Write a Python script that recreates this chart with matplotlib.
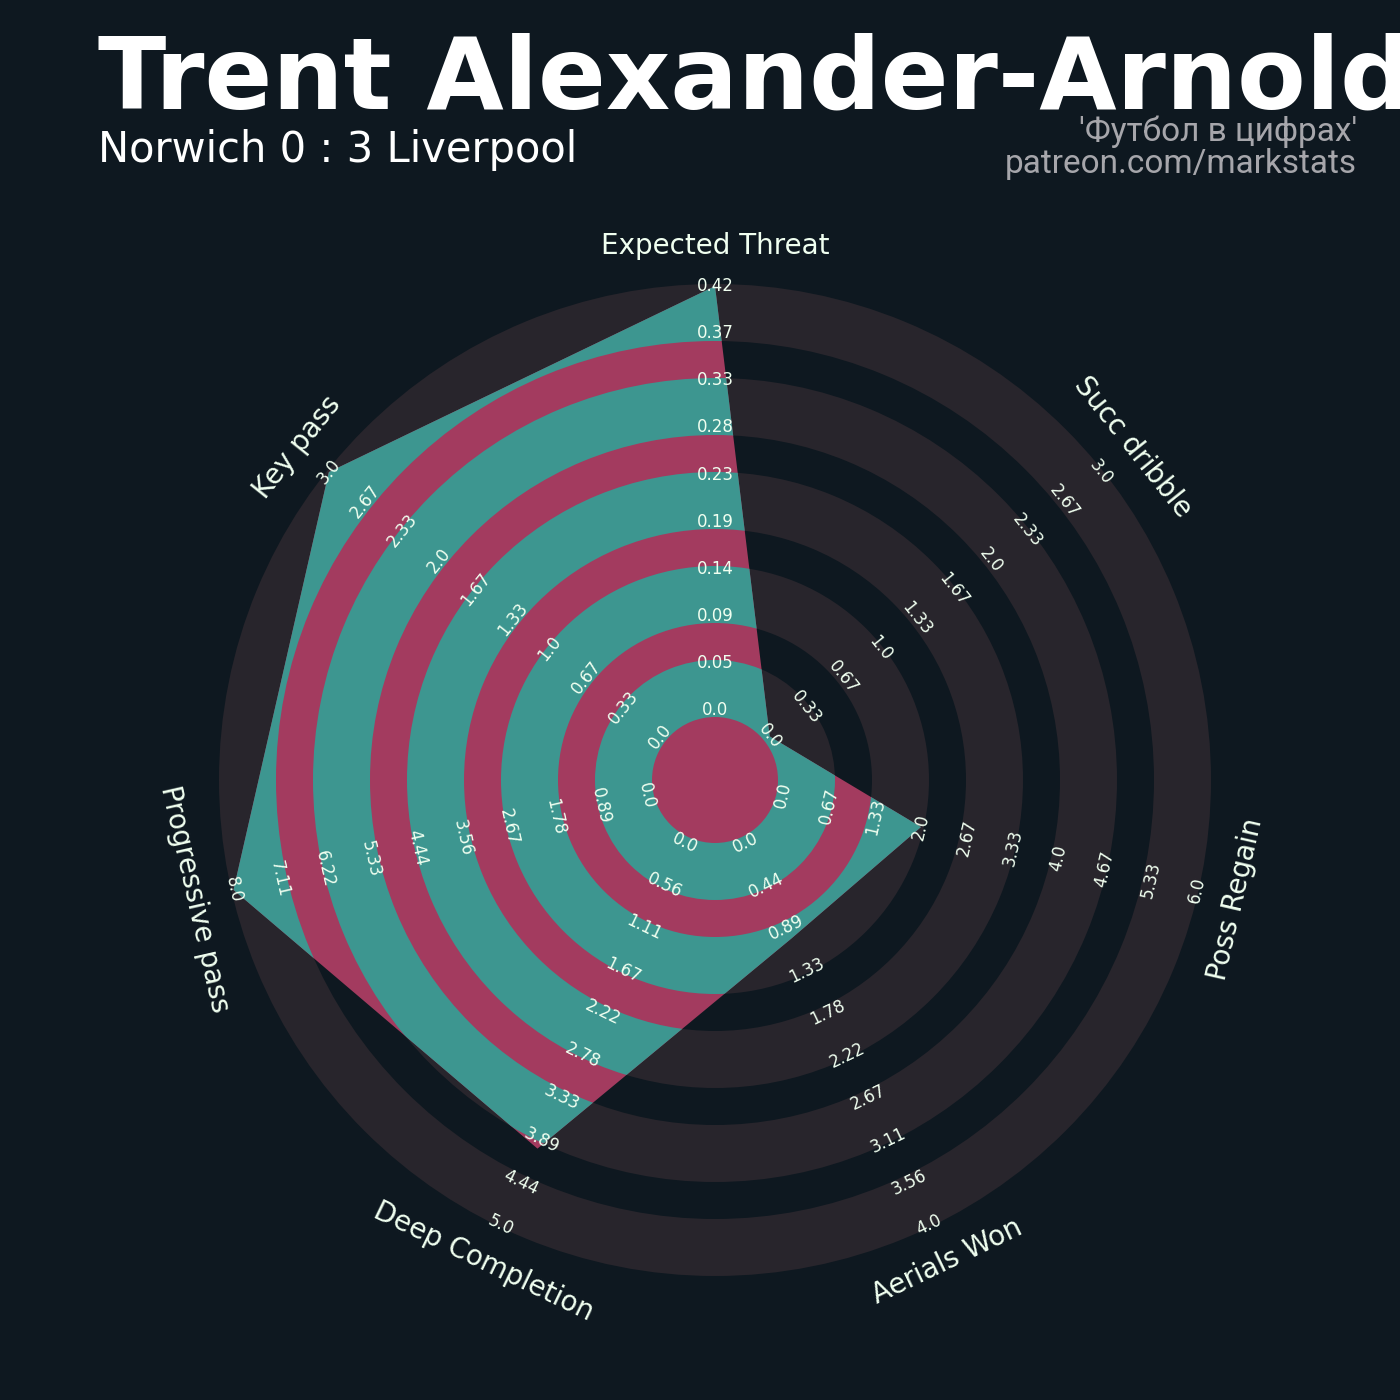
import numpy as np
import matplotlib
matplotlib.use("Agg")
import matplotlib.pyplot as plt
from matplotlib.patches import Polygon, Wedge

# Radar parameters, clockwise from the top
params = ["Expected Threat", "Succ dribble", "Poss Regain", "Aerials Won",
          "Deep Completion", "Progressive pass", "Key pass"]

# Lower and upper bound of every parameter
lows = [0.0, 0.0, 0.0, 0.0, 0.0, 0.0, 0.0]
highs = [0.42, 3.0, 6.0, 4.0, 5.0, 8.0, 3.0]

# Player values
values = [0.42, 0.0, 2.0, 1.0, 4.0, 8.0, 3.0]

# Colours
backgroundColor = "#0e1820"
patchColor = "#28252c"
fillColor = "#a33b5f"
ringColor = "#3d9690"
labelColor = "#f0fff0"
endColor = "#a6a6ab"

# Geometry in pixels (the axes uses pixel units, centre of the radar at 0, 0)
startRadius = 70
stepRadius = 47.1
numRanges = 10
ringInner = [63, 157, 251, 345, 439]
ringWidth = 57
labelRadius = 534

# Create the figure
fig = plt.figure(figsize=(14, 14), dpi=100, facecolor=backgroundColor)
ax = fig.add_axes([0, 0, 1, 1])
ax.set_facecolor(backgroundColor)
ax.set_xlim(-715, 685)
ax.set_ylim(-620, 780)
ax.set_aspect("equal")
ax.axis("off")

# Angle of each axis (top, then clockwise)
angles = np.pi / 2 - np.arange(len(params)) * 2 * np.pi / len(params)

# Concentric background rings
for inner in ringInner:
    ax.add_patch(Wedge((0, 0), inner + ringWidth, 0, 360, width=ringWidth,
                       fc=patchColor, ec="none", zorder=1))

# Radar polygon
radii = [startRadius + (v - lo) / (hi - lo) * (numRanges - 1) * stepRadius
         for v, lo, hi in zip(values, lows, highs)]
verts = [(r * np.cos(a), r * np.sin(a)) for r, a in zip(radii, angles)]
radarPatch = Polygon(verts, closed=True, fc=fillColor, ec="none", zorder=2)
ax.add_patch(radarPatch)

# Rings inside the polygon get the second colour
for inner in ringInner:
    ring = Wedge((0, 0), inner + ringWidth, 0, 360, width=ringWidth,
                 fc=ringColor, ec="none", zorder=3)
    ax.add_patch(ring)
    ring.set_clip_path(radarPatch)


# Rotation of a text along an axis, kept readable
def textRotation(angle):
    deg = (np.degrees(angle) + 180) % 360 - 180
    rot = deg - 90
    if rot < -90:
        rot += 180
    return rot


# Range values and parameter names
for i, angle in enumerate(angles):
    rot = textRotation(angle)
    ticks = np.linspace(lows[i], highs[i], numRanges)
    for k, tick in enumerate(ticks):
        r = startRadius + k * stepRadius
        ax.text(r * np.cos(angle), r * np.sin(angle), str(round(tick, 2)),
                color=labelColor, fontsize=12, ha="center", va="center",
                rotation=rot, rotation_mode="anchor", zorder=4)
    ax.text(labelRadius * np.cos(angle), labelRadius * np.sin(angle), params[i],
            color=labelColor, fontsize=20, ha="center", va="center",
            rotation=rot, rotation_mode="anchor", zorder=4)

# Title and subtitle
ax.text(-617, 672, "Trent Alexander-Arnold", color="white", fontsize=72,
        fontweight="bold", ha="left", va="baseline")
ax.text(-617, 618, "Norwich 0 : 3 Liverpool", color="white", fontsize=30,
        ha="left", va="baseline")

# Endnote
ax.text(642, 607, "'Футбол в цифрах'\npatreon.com/markstats", color=endColor,
        fontsize=24, family="Roboto", ha="right", va="baseline",
        multialignment="right", linespacing=0.98)

# Save the plot
fig.savefig("out.png", dpi=100, facecolor=backgroundColor)
